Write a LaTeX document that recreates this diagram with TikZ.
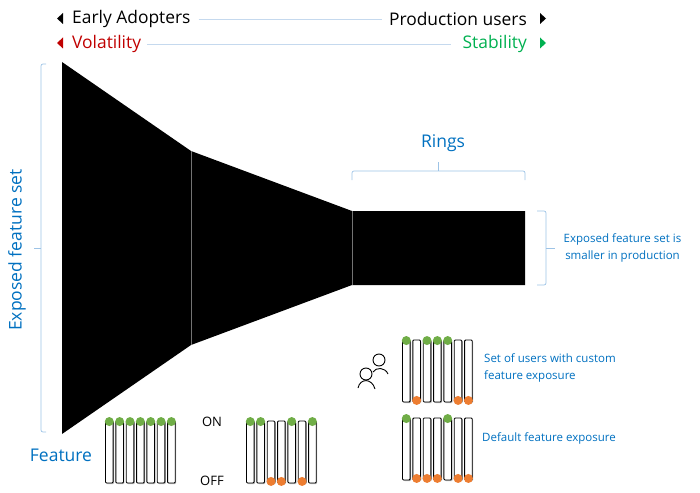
\documentclass[tikz,border=0pt]{standalone}
\usepackage{fontspec}
\setmainfont{Open Sans}
\usetikzlibrary{calc}
\usetikzlibrary{shadows}
\definecolor{ringblue}{HTML}{0070C0}
\definecolor{bracelt}{HTML}{9DC3E6}
\definecolor{linelt}{HTML}{C5D9EE}
\definecolor{volred}{HTML}{C00000}
\definecolor{stabgreen}{HTML}{00B050}
\definecolor{dotgreen}{HTML}{70AD47}
\definecolor{dotorange}{HTML}{ED7D31}
\tikzset{
  headtext/.style={inner sep=0pt,font=\fontsize{17.4}{20}\selectfont},
  bluetext/.style={inner sep=0pt,text=ringblue,font=\fontsize{17.5}{20}\selectfont},
  smalltext/.style={inner sep=0pt,text=ringblue,align=center,font=\fontsize{11.5}{16.3}\selectfont},
  brace/.style={bracelt,line width=0.7pt,rounded corners=2pt},
  pill/.style={draw=black,fill=white,line width=0.9pt,rounded corners=1pt,
    minimum width=7.6pt,minimum height=62pt,inner sep=0pt,
    drop shadow={shadow xshift=1pt,shadow yshift=-1pt,fill=black!45,opacity=.6}},
  dot/.style={circle,inner sep=0pt,minimum size=9pt},
  person/.style={line width=0.9pt},
}
% one bank of seven switches: name, left x, top y, states (1 on, 0 off)
\newcommand{\bank}[4]{%
  \foreach \s [count=\i] in {#4}{
    \node[pill] (#1-\i) at ({#2+4.3+(\i-1)*10.35},{#3+31}) {};
    \ifnum\s=1
      \node[dot,fill=dotgreen] (#1-d\i) at ($(#1-\i.north)+(0,1)$) {};
    \else
      \node[dot,fill=dotorange] (#1-d\i) at ($(#1-\i.south)+(0,-2)$) {};
    \fi
  }%
}

\begin{document}
\begin{tikzpicture}[x=1pt,y=-1pt]
\useasboundingbox (0,0) rectangle (700,492);

%%%%%%%%%%%%%%%%%%%%%%%%%%%%%% header
\node[headtext,anchor=west] (early) at (72,19) {Early Adopters};
\node[headtext,anchor=east] (prod) at (527,19) {Production users};
\node[headtext,anchor=west,text=volred] (vol) at (72,44) {Volatility};
\node[headtext,anchor=east,text=stabgreen] (stab) at (527,44) {Stability};
\draw[linelt,line width=0.8pt] ([xshift=8pt]early.east) -- ([xshift=-7pt]prod.west);
\draw[linelt,line width=0.8pt] ([xshift=6pt]vol.east) -- ([xshift=-11pt]stab.west);

\fill (63,13) -- (63,24) -- (57,18.5) -- cycle;
\fill (540,13) -- (540,24) -- (546,18.5) -- cycle;
\fill[volred] (63,37.5) -- (63,48.5) -- (57,43) -- cycle;
\fill[stabgreen] (540,37.5) -- (540,48.5) -- (546,43) -- cycle;

%%%%%%%%%%%%%%%%%%%%%%%%%%%%%% funnel
\fill (62,62) -- (191,151) -- (352,211) -- (525,211) -- (525,285)
  -- (352,285) -- (191,345) -- (62,434) -- cycle;
\draw[black!55,line width=0.7pt] (191,151) -- (191,345);
\draw[black!55,line width=0.7pt] (352,211) -- (352,285);

%%%%%%%%%%%%%%%%%%%%%%%%%%%%%% braces
\draw[brace] (46,64) -- (41,64) -- (41,432) -- (46,432);
\draw[brace] (34,248) -- (41,248);
\draw[brace] (352,180) -- (352,171) -- (525,171) -- (525,180);
\draw[brace] (438,162) -- (438,171);
\draw[brace] (537,211) -- (546,211) -- (546,285) -- (537,285);
\draw[brace] (546,248) -- (555,248);

%%%%%%%%%%%%%%%%%%%%%%%%%%%%%% labels
\node[bluetext,rotate=90] (exposed) at (17,250) {Exposed feature set};
\node[bluetext] (feature) at (61,455) {Feature};
\node[bluetext] (rings) at (443,143) {Rings};
\node[smalltext] (smaller) at (622.5,248) {Exposed feature set is\\smaller in production};
\node[smalltext,anchor=west,align=left] (custom) at (484,368) {Set of users with custom\\feature exposure};
\node[smalltext,anchor=west] (default) at (482,438.5) {Default feature exposure};
\node[inner sep=0pt,font=\fontsize{13}{15}\selectfont] (on) at (212,421.5) {ON};
\node[inner sep=0pt,font=\fontsize{13}{15}\selectfont] (off) at (212,481) {OFF};

%%%%%%%%%%%%%%%%%%%%%%%%%%%%%% switches
\bank{a}{105}{421}{1,1,1,1,1,1,1}
\bank{b}{246}{421}{1,1,0,0,1,0,1}
\bank{c}{402}{340}{1,0,1,1,1,0,0}
\bank{d}{402}{418}{1,0,0,0,1,0,0}

%%%%%%%%%%%%%%%%%%%%%%%%%%%%%% users
\draw[person] (379,360) circle (6pt);
\draw[person] (373,372) .. controls (376,367) and (385,367) .. (388,374);
\draw[person,fill=white] (366,374) circle (6pt);
\draw[person] (358,388) .. controls (360,378) and (372,378) .. (375,389);

\end{tikzpicture}
\end{document}
